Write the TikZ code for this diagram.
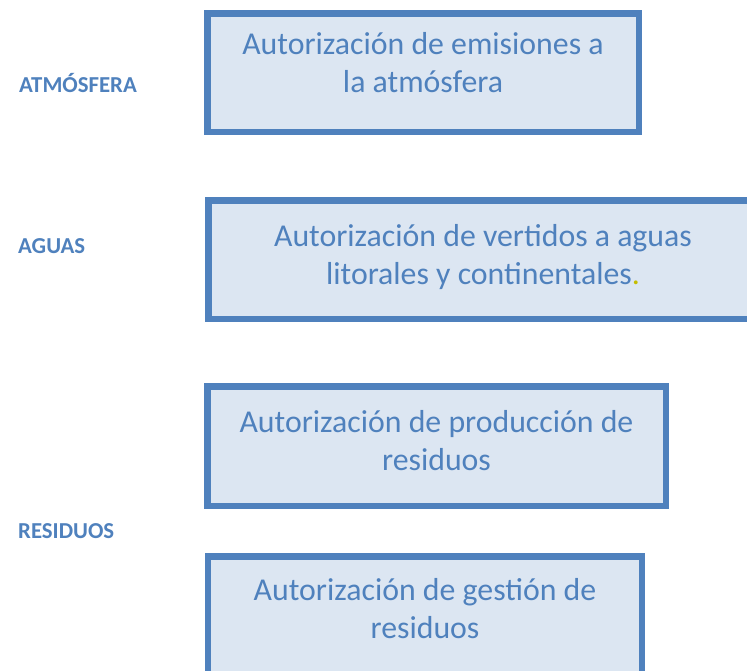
\documentclass[tikz,border=0pt]{standalone}
\usepackage{fontspec}
\setmainfont{Carlito}
\usepackage{xcolor}
\usepackage{tikz}
\usetikzlibrary{positioning}
\definecolor{azulborde}{RGB}{79,129,189}
\definecolor{azulfondo}{RGB}{220,230,242}
\definecolor{azultexto}{RGB}{79,129,189}
\definecolor{amarillo}{RGB}{196,189,0}

\begin{document}
\begin{tikzpicture}[x=1pt, y=-1pt]
  % Styles
  \tikzstyle{caja}=[rectangle, draw=azulborde, line width=6.5pt, fill=azulfondo, inner sep=0pt, minimum height=118.5pt]
  \tikzstyle{texto}=[align=center, text=azultexto, font=\fontsize{31.8}{38.5}\selectfont, inner sep=0pt, outer sep=0pt, execute at begin node=\rule{0pt}{25pt}]
  \tikzstyle{tema}=[text=azultexto, font=\fontsize{22.8}{27}\selectfont\bfseries, inner sep=0pt, anchor=base west]

  \useasboundingbox (0,0) rectangle (747,670);
  \clip (0,0) rectangle (747,670);

  % Boxes
  \node[caja, minimum width=431.5pt] (emisiones) at (423,72.5) {};
  \node[caja, minimum width=549.5pt] (vertidos) at (483,259.5) {};
  \node[caja, minimum width=458.5pt, minimum height=119.5pt] (produccion) at (436.5,446) {};
  \node[caja, minimum width=434pt] (gestion) at (425,615.5) {};

  % Box texts
  \node[texto, below=22pt of emisiones.north] (t-emisiones) {Autorización de emisiones a\\la atmósfera};
  \node[texto, below=27pt of vertidos.north] (t-vertidos) {Autorización de vertidos a aguas\\litorales y continentales{\color{amarillo}.}};
  \node[texto, below=27pt of produccion.north] (t-produccion) {Autorización de producción de\\residuos};
  \node[texto, below=25pt of gestion.north] (t-gestion) {Autorización de gestión de\\residuos};

  % Topics
  \node[tema] (atmosfera) at (19,92) {ATMÓSFERA};
  \node[tema] (aguas) at (18,253) {AGUAS};
  \node[tema] (residuos) at (18,538) {RESIDUOS};
\end{tikzpicture}
\end{document}
